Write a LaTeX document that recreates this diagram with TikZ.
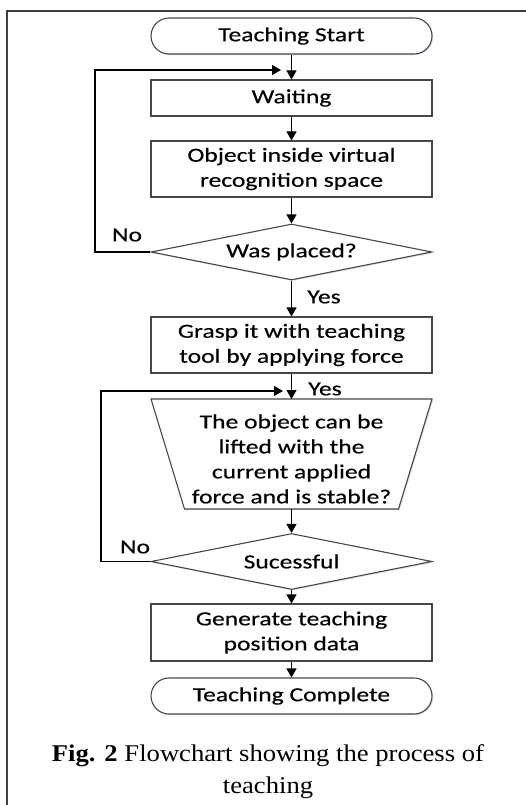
\documentclass[tikz,border=0pt]{standalone}
\usepackage{fontspec}
\usetikzlibrary{arrows.meta,shapes.geometric,calc,shadows}
\newfontfamily\flowfont[FakeStretch=1.28,FakeBold=0.35]{Carlito}
\newfontfamily\capfont[FakeStretch=1.11]{Liberation Serif}
\tikzset{
  shp/.style={draw=black!72,line width=1.1pt,fill=white,
    drop shadow={opacity=0.18,shadow xshift=1.2pt,shadow yshift=-1.2pt,fill=blue!40!gray}},
  txt/.style={font=\flowfont\fontsize{20}{25}\selectfont,align=center,text=black},
  procbox/.style={shp,txt,minimum width=281pt,inner sep=0pt},
  termbox/.style={procbox,minimum height=36pt,rounded corners=18pt},
  decbox/.style={shp,txt,shape=diamond,aspect=5,inner sep=0pt,minimum width=281pt,minimum height=56pt},
  conn/.style={draw=black,line width=1.1pt,-{Triangle[length=9pt,width=10pt]}},
  lbl/.style={font=\flowfont\fontsize{20}{25}\selectfont,text=black,inner sep=0pt},
  frameline/.style={draw=black!75,line width=1.3pt}
}
\begin{document}
\begin{tikzpicture}[x=1pt,y=-1pt]
\useasboundingbox (0,0) rectangle (526,805);
\draw[frameline] (7,806) -- (7,11) -- (527,11);

\node[termbox] (start) at (291.5,36) {Teaching Start};
\node[procbox,minimum height=36pt] (wait) at (291.5,98) {Waiting};
\node[procbox,minimum height=56pt] (obj) at (291.5,169) {Object inside virtual\\recognition space};
\node[decbox] (d1) at (291.5,252) {Was placed?};
\node[procbox,minimum height=56pt] (grasp) at (291.5,345) {Grasp it with teaching\\tool by applying force};

% trapezium
\coordinate (tc) at (291.5,454);
\coordinate (tN) at (291.5,399);
\coordinate (tS) at (291.5,509);
\filldraw[shp] ($(tc)+(-140.5,-55)$) -- ($(tc)+(140.5,-55)$) -- ($(tc)+(107,55)$) -- ($(tc)+(-107,55)$) -- cycle;
\node[txt,inner sep=0pt] (trap) at (291.5,459) {The object can be\\lifted with the\\current applied\\force and is stable?};

\node[decbox] (d2) at (291.5,561.5) {Sucessful};
\node[procbox,minimum height=57pt] (gen) at (291.5,632.5) {Generate teaching\\position data};
\node[termbox] (end) at (291.5,696) {Teaching Complete};

% connectors
\draw[conn] (start) -- (wait);
\draw[conn] (wait) -- (obj);
\draw[conn] (obj) -- (d1);
\draw[conn] (d1) -- (grasp);
\draw[conn] (grasp) -- (tN);
\draw[conn] (tS) -- (d2);
\draw[conn] (d2) -- (gen);
\draw[conn] (gen) -- (end);

\coordinate (l1a) at (95,252);
\coordinate (l1b) at (95,70);
\coordinate (l1c) at (281,70);
\draw[conn] (d1.west) -- (l1a) -- (l1b) -- (l1c);
\coordinate (l2a) at (101,561.5);
\coordinate (l2b) at (101,391);
\coordinate (l2c) at (283,391);
\draw[conn] (d2.west) -- (l2a) -- (l2b) -- (l2c);

\node[lbl] (no1) at (127,235) {No};
\node[lbl] (yes1) at (324,297) {Yes};
\node[lbl] (yes2) at (325,389) {Yes};
\node[lbl] (no2) at (135,547) {No};

% caption
\node[font=\capfont\fontsize{24}{31}\selectfont,anchor=base,inner sep=0pt] (cap1) at (268,761) {\textbf{Fig. 2} Flowchart showing the process of};
\node[font=\capfont\fontsize{24}{31}\selectfont,anchor=base,inner sep=0pt] (cap2) at (268,793) {teaching};
\end{tikzpicture}
\end{document}
